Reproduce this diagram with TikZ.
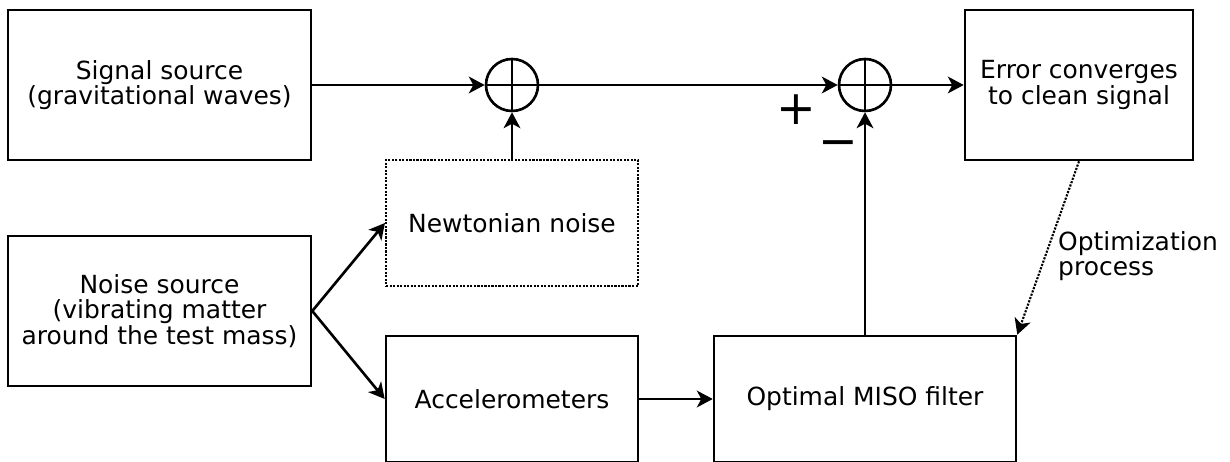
\documentclass[tikz,border=0pt]{standalone}
\usepackage{fontspec}
\setmainfont{DejaVu Sans}
\usetikzlibrary{arrows.meta}

\tikzset{
  blockbox/.style={draw, line width=1.5pt, rectangle, align=center,
    inner sep=0pt, font=\fontsize{14.2}{14.6}\selectfont},
  sumnode/.style={draw, line width=1.5pt, circle, minimum size=1.04cm, inner sep=0pt},
  flow/.style={line width=1.5pt, -{Stealth[length=9pt, width=9.5pt, inset=2.5pt]}},
}

\begin{document}
\begin{tikzpicture}[x=0.02cm, y=-0.02cm]
    \useasboundingbox (0, 0) rectangle (1230, 462);

    \node[blockbox, minimum width=6.06cm, minimum height=3cm] (signal) at (159.5, 85)
      {Signal source\\(gravitational waves)};
    \node[blockbox, minimum width=6.06cm, minimum height=3cm] (noise) at (159.5, 311)
      {Noise source\\(vibrating matter\\around the test mass)};
    \node[blockbox, dash pattern=on 1.2pt off 0.8pt, line width=1.2pt, minimum width=5.04cm,
      minimum height=2.52cm] (newton) at (512, 223) {Newtonian noise};
    \node[blockbox, minimum width=5.04cm, minimum height=2.52cm] (accel) at (512, 399)
      {Accelerometers};
    \node[blockbox, minimum width=6.04cm, minimum height=2.52cm] (miso) at (865, 399)
      {Optimal MISO filter};
    \node[blockbox, minimum width=4.56cm, minimum height=3cm] (error) at (1079, 85)
      {Error converges\\to clean signal};

    \node[sumnode] (sumA) at (512, 85) {};
    \node[sumnode] (sumB) at (865, 85) {};
    \draw[line width=1.5pt] (sumA.north) -- (sumA.south) (sumA.west) -- (sumA.east);
    \draw[line width=1.5pt] (sumB.north) -- (sumB.south) (sumB.west) -- (sumB.east);

    \node[font=\fontsize{27}{27}\selectfont] (plus) at (796, 110) {+};
    \node[font=\fontsize{27}{27}\selectfont] (minus) at (838, 149) {−};

    \draw[flow] (signal.east) -- (sumA.west);
    \draw[flow] (sumA.east) -- (sumB.west);
    \draw[flow] (sumB.east) -- (error.west);
    \draw[flow] (newton.north) -- (sumA.south);
    \draw[flow] (miso.north) -- (sumB.south);
    \draw[flow] (noise.east) -- (newton.west);
    \draw[flow] (noise.east) -- (accel.west);
    \draw[flow] (accel.east) -- (miso.west);
    \draw[flow, line width=1.2pt, dash pattern=on 1.2pt off 0.8pt] (error.south) -- (miso.north east);

    \node[align=left, anchor=west, font=\fontsize{14.2}{14.6}\selectfont] (optlabel) at (1052, 256)
      {Optimization\\process};
  \end{tikzpicture}
\end{document}
